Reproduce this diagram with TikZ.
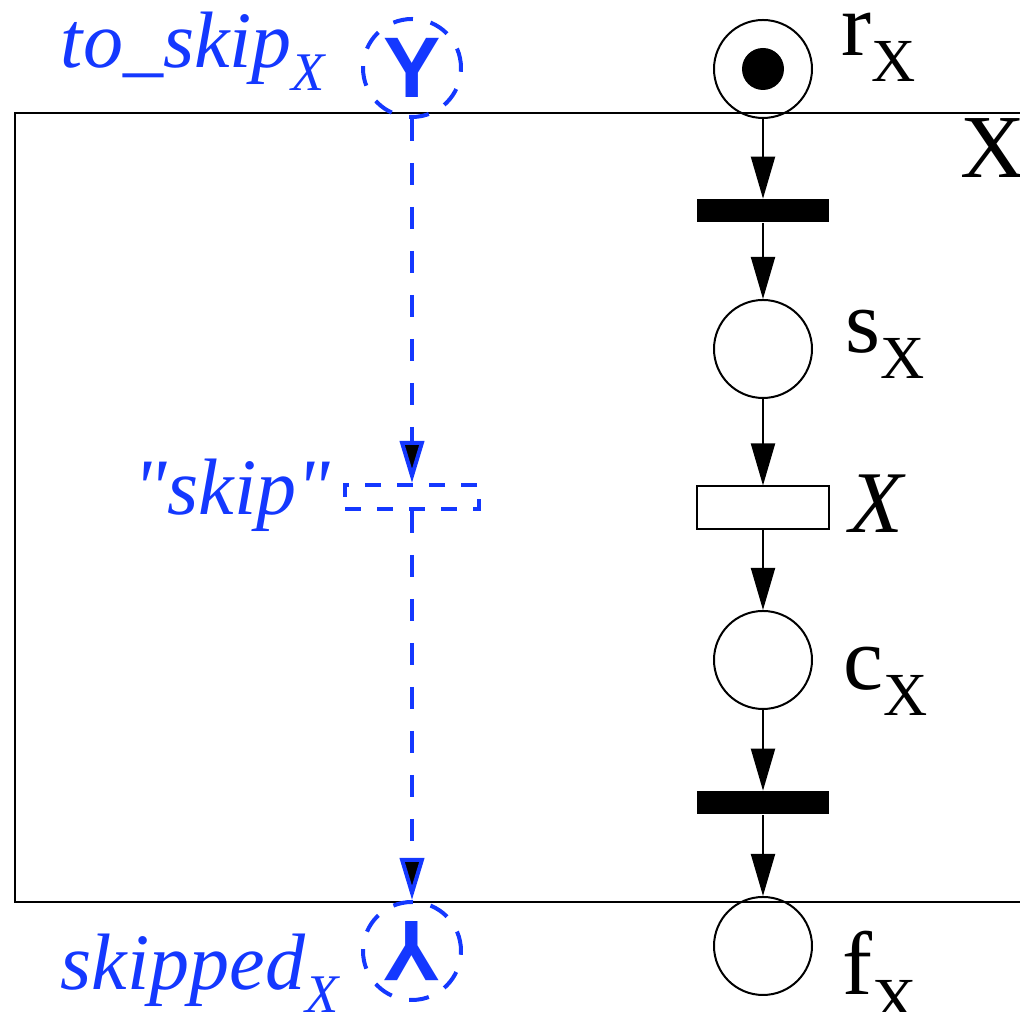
\documentclass[tikz,border=0pt]{standalone}
\usepackage{fontspec}
\setmainfont{Liberation Serif}
\newfontfamily\ysans{Liberation Sans}
\usepackage{graphicx}
\usetikzlibrary{arrows.meta, positioning}

\definecolor{skipblue}{RGB}{20,56,255}
\newcommand{\pnsub}[1]{\raisebox{-0.28em}{\scalebox{0.68}{#1}}}

\begin{document}
\begin{tikzpicture}[x=0.25pt, y=-0.25pt, >={Triangle[length=10.5pt, width=6pt]},
    place/.style={circle, draw, minimum size=24.5pt, inner sep=0pt, line width=0.5pt},
    token/.style={circle, fill=black, minimum size=10.5pt, inner sep=0pt},
    bar/.style={rectangle, fill=black, minimum width=33pt, minimum height=5.75pt, inner sep=0pt},
    activity/.style={rectangle, draw, minimum width=33pt, minimum height=10.75pt, inner sep=0pt, line width=0.5pt},
    skipplace/.style={place, draw=skipblue, line width=1pt, dash pattern=on 5pt off 4.5pt,
        text=skipblue, font=\ysans\bfseries\fontsize{21.5pt}{21.5pt}\selectfont},
    skiptrans/.style={activity, draw=skipblue, line width=1pt, minimum width=33.5pt,
        minimum height=6pt, dash pattern=on 4pt off 4pt},
    arc/.style={->, line width=0.5pt},
    skiparc/.style={->, draw=skipblue, line width=1pt, dash pattern=on 5.5pt off 5.5pt},
    pnlabel/.style={inner sep=0pt, anchor=base west, font=\fontsize{22.5pt}{22.5pt}\selectfont},
    skiplabel/.style={pnlabel, text=skipblue, font=\itshape\fontsize{20pt}{20pt}\selectfont}]

    \useasboundingbox (0,0) rectangle (1020,1012);

    % Subnet frame
    \draw[line width=0.5pt] (15,113) rectangle (1040,902);
    \node[pnlabel] (xname) at (960,178) {X};

    % Places and transitions of X
    \node[place] (r) at (763,69) {};
    \node[token] (rtok) at (r) {};
    \node[bar] (start) at (763,211) {};
    \node[place] (s) at (763,349) {};
    \node[activity] (act) at (763,508) {};
    \node[place] (c) at (763,660) {};
    \node[bar] (finish) at (763,803) {};
    \node[place] (f) at (763,946) {};

    \node[pnlabel] (rname) at (841,56) {r\pnsub{X}};
    \node[pnlabel] (sname) at (845,353) {s\pnsub{X}};
    \node[pnlabel, font=\itshape\fontsize{22pt}{22pt}\selectfont] (actname) at (849,533) {X};
    \node[pnlabel] (cname) at (843,690) {c\pnsub{X}};
    \node[pnlabel] (fname) at (842,995) {f\pnsub{X}};

    % Skip branch
    \node[skipplace] (toskip) at (412,68) {Y};
    \node[skiptrans] (skip) at (412,497) {};
    \node[skipplace] (skipped) at (412,951) {\rotatebox{180}{Y}};

    \node[skiplabel] (toskipname) at (60,68) {to\_skip\pnsub{X}};
    \node[skiplabel] (skipname) at (133,515) {\textquotedbl skip\textquotedbl};
    \node[skiplabel] (skippedname) at (60,990) {skipped\pnsub{X}};

    % Arcs
    \path[arc]
        (r) edge (start)
        (start) edge (s)
        (s) edge (act)
        (act) edge (c)
        (c) edge (finish)
        (finish) edge (f);
    \path[skiparc]
        (toskip) edge (skip)
        (skip) edge (skipped);
\end{tikzpicture}
\end{document}
